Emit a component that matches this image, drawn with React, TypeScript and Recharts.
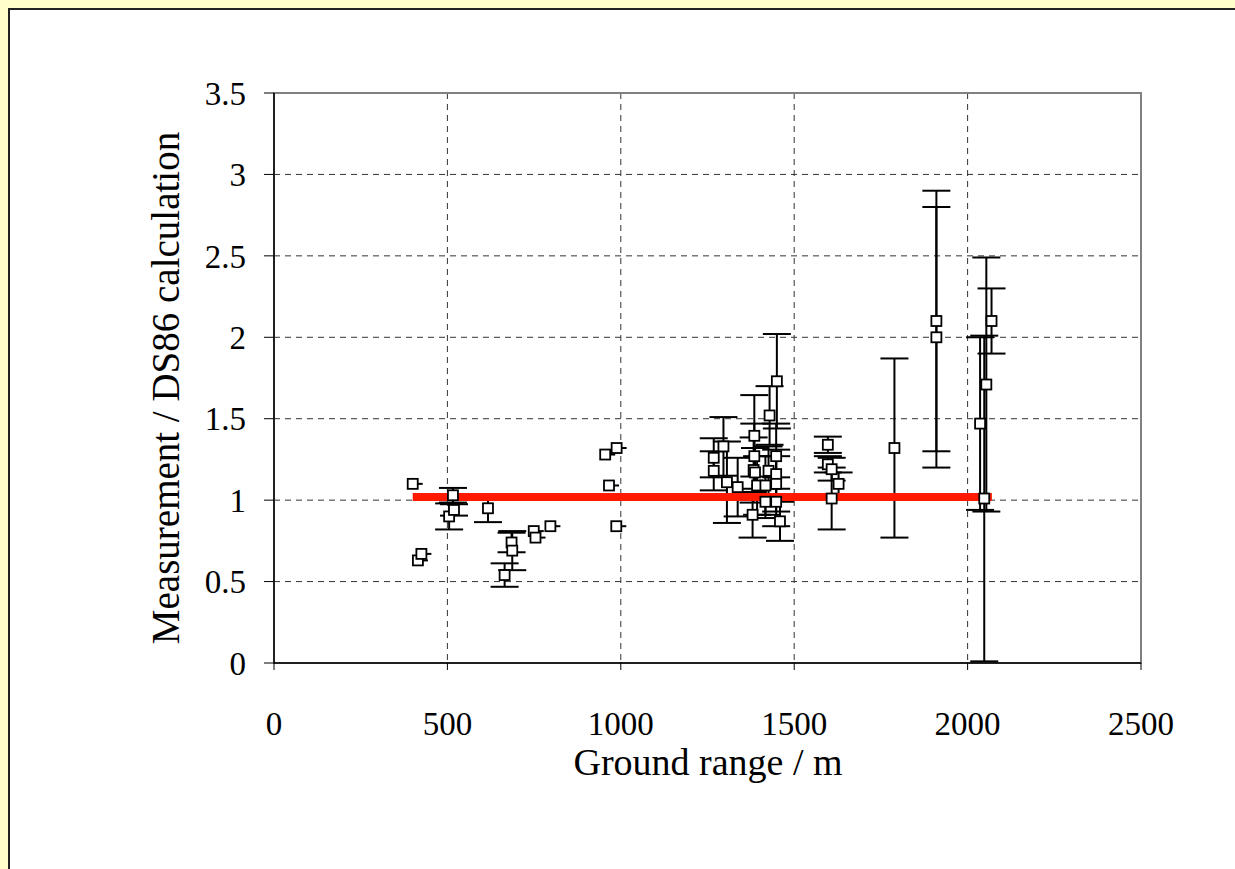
import React from 'react';
import {
  ScatterChart, Scatter, XAxis, YAxis, CartesianGrid, ErrorBar, ReferenceArea,
} from 'recharts';

// points read without visible error bars
const plainRange = [400, 415, 425, 749, 754, 797, 955, 966, 987, 988];
const plainRatio = [1.10, 0.63, 0.67, 0.81, 0.77, 0.84, 1.28, 1.09, 0.84, 1.32];

// points with error bars (ground range m, ratio, +/- error)
const errRange = [
  505, 516, 519, 617, 665, 685, 687,
  1268, 1268, 1296, 1306, 1337, 1380, 1383, 1385, 1385, 1387, 1393,
  1417, 1417, 1426, 1429, 1448, 1448, 1448, 1448, 1450, 1459,
  1597, 1597, 1608, 1608, 1628,
  1789, 1910, 1910, 2036, 2048, 2054, 2069,
];
const errRatio = [
  0.90, 1.03, 0.94, 0.95, 0.54, 0.74, 0.69,
  1.26, 1.18, 1.33, 1.11, 1.08, 0.91, 1.185, 1.395, 1.27, 1.17, 1.09,
  1.09, 0.99, 1.18, 1.52, 1.27, 1.16, 1.10, 0.99, 1.73, 0.87,
  1.34, 1.22, 1.19, 1.01, 1.10,
  1.32, 2.10, 2.00, 1.47, 1.01, 1.71, 2.10,
];
const errSize = [
  0.08, 0.045, 0.035, 0.085, 0.072, 0.06, 0.12,
  0.12, 0.12, 0.18, 0.25, 0.18, 0.14, 0.2, 0.25, 0.2, 0.15, 0.18,
  0.18, 0.1, 0.15, 0.18, 0.2, 0.15, 0.17, 0.15, 0.29, 0.12,
  0.05, 0.05, 0.07, 0.19, 0.07,
  0.55, 0.80, 0.80, 0.53, 1.0, 0.78, 0.20,
];

// the red 1.0 line
const fitRange = [400, 2070];
const fitRatio = [1.02, 1.02];

const xTicks = [0, 500, 1000, 1500, 2000, 2500];
const yTicks = [0, 0.5, 1, 1.5, 2, 2.5, 3, 3.5];

const plainData = plainRange.map((x, i) => ({ x, y: plainRatio[i] }));
const errData = errRange.map((x, i) => ({ x, y: errRatio[i], err: errSize[i] }));
const fitData = fitRange.map((x, i) => ({ x, y: fitRatio[i] }));

const FONT = "'Times New Roman', 'Liberation Serif', serif";
const PAGE_BG = '#ffffcc';

const Square = (props: any) => {
  const { cx, cy, stub } = props;
  if (cx == null || cy == null) return <g />;
  return (
    <g>
      {stub && <line x1={cx + 5} x2={cx + 10} y1={cy} y2={cy} stroke="#000" strokeWidth={2} />}
      <rect x={cx - 5} y={cy - 5} width={10} height={10} fill="#fff" stroke="#000" strokeWidth={1.8} />
    </g>
  );
};

export default function App() {
  return (
    <div style={{ position: 'fixed', left: 0, top: 0, width: 1235, height: 869, background: '#fff', overflow: 'hidden' }}>
      <style>{'html, body { overflow: hidden; }'}</style>
      {/* yellow page edge + dark frame of the chart panel */}
      <div style={{ position: 'absolute', left: 0, top: 0, width: 1235, height: 8, background: PAGE_BG }} />
      <div style={{ position: 'absolute', left: 0, top: 0, width: 8, height: 869, background: PAGE_BG }} />
      <div style={{ position: 'absolute', left: 8, top: 8, width: 1227, height: 2, background: '#222' }} />
      <div style={{ position: 'absolute', left: 8, top: 8, width: 2, height: 861, background: '#222' }} />
      <div style={{ position: 'absolute', left: 0, top: 0 }}>
        <ScatterChart
          width={1235}
          height={869}
          margin={{ top: 93, right: 94, left: 174, bottom: 106 }}
        >
          <CartesianGrid stroke="#333" strokeDasharray="6 5" strokeWidth={1} />
          <ReferenceArea x1={0} x2={2500} y1={0} y2={3.5} fill="none" stroke="#808080" strokeWidth={2} />
          <XAxis
            type="number"
            dataKey="x"
            domain={[0, 2500]}
            ticks={xTicks}
            height={100}
            tickSize={7}
            tickMargin={42}
            axisLine={{ stroke: '#000', strokeWidth: 1.5 }}
            tickLine={{ stroke: '#000' }}
            tick={{ fill: '#000', fontSize: 33, fontFamily: FONT }}
          />
          <YAxis
            type="number"
            dataKey="y"
            domain={[0, 3.5]}
            ticks={yTicks}
            width={100}
            tickSize={10}
            tickMargin={18}
            axisLine={{ stroke: '#000', strokeWidth: 1.5 }}
            tickLine={{ stroke: '#000' }}
            tick={{ fill: '#000', fontSize: 33, fontFamily: FONT }}
          />
          <Scatter
            data={fitData}
            line={{ stroke: '#ff1a00', strokeWidth: 8 }}
            shape={() => <g />}
            isAnimationActive={false}
          />
          <Scatter data={errData} shape={<Square />} isAnimationActive={false}>
            <ErrorBar dataKey="err" direction="y" width={14} stroke="#000" strokeWidth={2} isAnimationActive={false} />
          </Scatter>
          <Scatter data={plainData} shape={<Square stub />} isAnimationActive={false} />
        </ScatterChart>
      </div>
      <div
        style={{
          position: 'absolute', left: 708, top: 762, transform: 'translate(-50%, -50%)',
          fontFamily: FONT, fontSize: 38, color: '#000', whiteSpace: 'nowrap',
        }}
      >
        Ground range / m
      </div>
      <div
        style={{
          position: 'absolute', left: 165, top: 388, transform: 'translate(-50%, -50%) rotate(-90deg)',
          fontFamily: FONT, fontSize: 39, color: '#000', whiteSpace: 'nowrap',
        }}
      >
        Measurement / DS86 calculation
      </div>
    </div>
  );
}
